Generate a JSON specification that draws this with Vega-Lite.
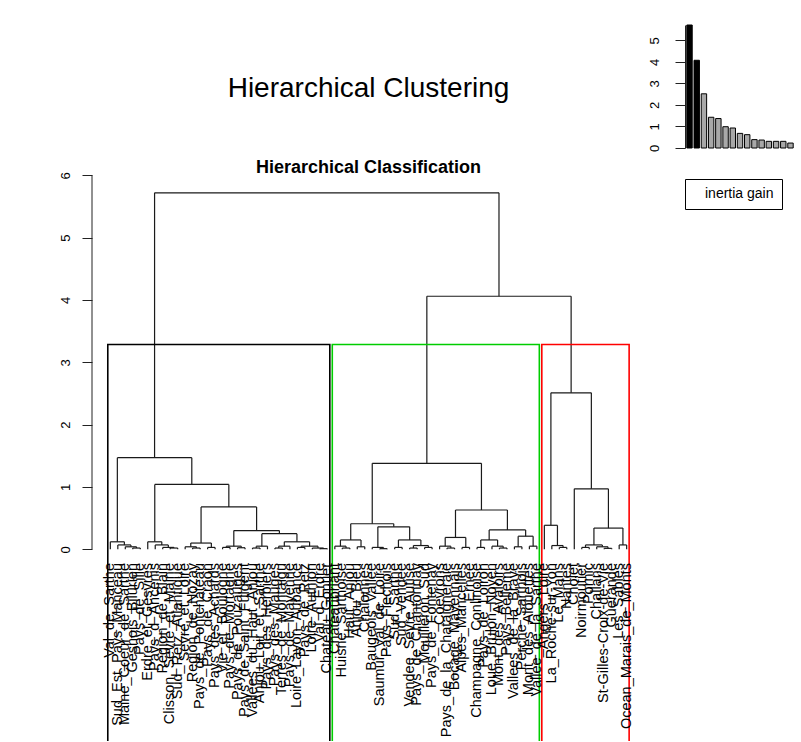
{
  "$schema": "https://vega.github.io/schema/vega-lite/v6.json",
  "padding": {"left": 59, "top": 24, "right": 0, "bottom": 0},
  "background": "white",
  "config": {"view": {"stroke": null}, "font": "Liberation Sans", "concat": {"spacing": 3}},
  "resolve": {"scale": {"stroke": "independent", "fill": "independent"}, "legend": {"stroke": "independent", "fill": "independent"}},
  "hconcat": [
    {
      "width": 553,
      "height": 716,
      "title": {"text": "Hierarchical Clustering", "subtitle": "Hierarchical Classification", "anchor": "middle", "frame": "group", "fontSize": 28, "fontWeight": "normal", "font": "Liberation Sans", "color": "black", "subtitleFont": "Liberation Sans", "subtitleFontSize": 18, "subtitleFontWeight": "bold", "subtitleColor": "black", "subtitlePadding": 56, "offset": -152},
      "layer": [
        {
          "data": {"name": "merges", "values": [
            {"xl": 4, "xr": 5, "h": 0.02, "hl": 0, "hr": 0},
            {"xl": 3, "xr": 4.5, "h": 0.04, "hl": 0, "hr": 0.02},
            {"xl": 2, "xr": 3.75, "h": 0.07, "hl": 0, "hr": 0.04},
            {"xl": 1, "xr": 2.875, "h": 0.12, "hl": 0, "hr": 0.07},
            {"xl": 9, "xr": 10, "h": 0.02, "hl": 0, "hr": 0},
            {"xl": 8, "xr": 9.5, "h": 0.03, "hl": 0, "hr": 0.02},
            {"xl": 7, "xr": 8.75, "h": 0.07, "hl": 0, "hr": 0.03},
            {"xl": 6, "xr": 7.875, "h": 0.12, "hl": 0, "hr": 0.07},
            {"xl": 12, "xr": 13, "h": 0.02, "hl": 0, "hr": 0},
            {"xl": 11, "xr": 12.5, "h": 0.04, "hl": 0, "hr": 0.02},
            {"xl": 14, "xr": 15, "h": 0.03, "hl": 0, "hr": 0},
            {"xl": 11.75, "xr": 14.5, "h": 0.1, "hl": 0.04, "hr": 0.03},
            {"xl": 16, "xr": 17, "h": 0.03, "hl": 0, "hr": 0},
            {"xl": 18, "xr": 19, "h": 0.025, "hl": 0, "hr": 0},
            {"xl": 16.5, "xr": 18.5, "h": 0.05, "hl": 0.03, "hr": 0.025},
            {"xl": 20, "xr": 21, "h": 0.02, "hl": 0, "hr": 0},
            {"xl": 20.5, "xr": 22, "h": 0.05, "hl": 0.02, "hr": 0},
            {"xl": 23, "xr": 24, "h": 0.02, "hl": 0, "hr": 0},
            {"xl": 23.5, "xr": 25, "h": 0.05, "hl": 0.02, "hr": 0},
            {"xl": 26, "xr": 27, "h": 0.03, "hl": 0, "hr": 0},
            {"xl": 29, "xr": 30, "h": 0.01, "hl": 0, "hr": 0},
            {"xl": 28, "xr": 29.5, "h": 0.02, "hl": 0, "hr": 0.01},
            {"xl": 26.5, "xr": 28.75, "h": 0.05, "hl": 0.03, "hr": 0.02},
            {"xl": 24.25, "xr": 27.625, "h": 0.12, "hl": 0.05, "hr": 0.05},
            {"xl": 21.25, "xr": 25.9375, "h": 0.25, "hl": 0.05, "hr": 0.12},
            {"xl": 17.5, "xr": 23.59375, "h": 0.3, "hl": 0.05, "hr": 0.25},
            {"xl": 13.125, "xr": 20.546875, "h": 0.68, "hl": 0.1, "hr": 0.3},
            {"xl": 6.9375, "xr": 16.8359375, "h": 1.04, "hl": 0.12, "hr": 0.68},
            {"xl": 1.9375, "xr": 11.88671875, "h": 1.47, "hl": 0.12, "hr": 1.04},
            {"xl": 32, "xr": 33, "h": 0.02, "hl": 0, "hr": 0},
            {"xl": 31, "xr": 32.5, "h": 0.05, "hl": 0, "hr": 0.02},
            {"xl": 34, "xr": 35, "h": 0.04, "hl": 0, "hr": 0},
            {"xl": 31.75, "xr": 34.5, "h": 0.15, "hl": 0.05, "hr": 0.04},
            {"xl": 37, "xr": 38, "h": 0.01, "hl": 0, "hr": 0},
            {"xl": 36, "xr": 37.5, "h": 0.03, "hl": 0, "hr": 0.01},
            {"xl": 39, "xr": 40, "h": 0.03, "hl": 0, "hr": 0},
            {"xl": 41, "xr": 42, "h": 0.02, "hl": 0, "hr": 0},
            {"xl": 43, "xr": 44, "h": 0.03, "hl": 0, "hr": 0},
            {"xl": 41.5, "xr": 43.5, "h": 0.06, "hl": 0.02, "hr": 0.03},
            {"xl": 39.5, "xr": 42.5, "h": 0.15, "hl": 0.03, "hr": 0.06},
            {"xl": 36.75, "xr": 41, "h": 0.36, "hl": 0.03, "hr": 0.15},
            {"xl": 33.125, "xr": 38.875, "h": 0.41, "hl": 0.15, "hr": 0.36},
            {"xl": 46, "xr": 47, "h": 0.02, "hl": 0, "hr": 0},
            {"xl": 45, "xr": 46.5, "h": 0.05, "hl": 0, "hr": 0.02},
            {"xl": 48, "xr": 49, "h": 0.03, "hl": 0, "hr": 0},
            {"xl": 45.75, "xr": 48.5, "h": 0.19, "hl": 0.05, "hr": 0.03},
            {"xl": 50, "xr": 51, "h": 0.03, "hl": 0, "hr": 0},
            {"xl": 53, "xr": 54, "h": 0.02, "hl": 0, "hr": 0},
            {"xl": 52, "xr": 53.5, "h": 0.05, "hl": 0, "hr": 0.02},
            {"xl": 50.5, "xr": 52.75, "h": 0.15, "hl": 0.03, "hr": 0.05},
            {"xl": 55, "xr": 56, "h": 0.04, "hl": 0, "hr": 0},
            {"xl": 57, "xr": 58, "h": 0.05, "hl": 0, "hr": 0},
            {"xl": 55.5, "xr": 57.5, "h": 0.21, "hl": 0.04, "hr": 0.05},
            {"xl": 51.625, "xr": 56.5, "h": 0.31, "hl": 0.15, "hr": 0.21},
            {"xl": 47.125, "xr": 54.0625, "h": 0.63, "hl": 0.19, "hr": 0.31},
            {"xl": 36, "xr": 50.59375, "h": 1.38, "hl": 0.41, "hr": 0.63},
            {"xl": 61, "xr": 62, "h": 0.03, "hl": 0, "hr": 0},
            {"xl": 60, "xr": 61.5, "h": 0.06, "hl": 0, "hr": 0.03},
            {"xl": 59, "xr": 60.75, "h": 0.385, "hl": 0, "hr": 0.06},
            {"xl": 64, "xr": 65, "h": 0.03, "hl": 0, "hr": 0},
            {"xl": 67, "xr": 68, "h": 0.015, "hl": 0, "hr": 0},
            {"xl": 66, "xr": 67.5, "h": 0.04, "hl": 0, "hr": 0.015},
            {"xl": 64.5, "xr": 66.75, "h": 0.07, "hl": 0.03, "hr": 0.04},
            {"xl": 69, "xr": 70, "h": 0.07, "hl": 0, "hr": 0},
            {"xl": 65.625, "xr": 69.5, "h": 0.34, "hl": 0.07, "hr": 0.07},
            {"xl": 63, "xr": 67.5625, "h": 0.97, "hl": 0, "hr": 0.34},
            {"xl": 59.875, "xr": 65.28125, "h": 2.51, "hl": 0.385, "hr": 0.97},
            {"xl": 43.296875, "xr": 62.578125, "h": 4.06, "hl": 1.38, "hr": 2.51},
            {"xl": 6.912109375, "xr": 52.9375, "h": 5.72, "hl": 1.47, "hr": 4.06}
          ]},
          "layer": [
            {"mark": {"type": "rule", "color": "#1a1a1a", "strokeWidth": 1.2},
             "encoding": {
               "x": {"field": "xl", "type": "quantitative", "scale": {"domain": [-1.45, 72.45], "nice": false, "zero": false}, "axis": null},
               "x2": {"field": "xr"},
               "y": {"field": "h", "type": "quantitative", "scale": {"domain": [-3.076, 8.412], "nice": false, "zero": false},
                     "axis": {"values": [0, 1, 2, 3, 4, 5, 6], "format": "d", "domain": false, "grid": false, "tickSize": 10, "tickColor": "#222", "tickWidth": 1, "labelAngle": 270, "labelFontSize": 13, "labelPadding": 10, "labelColor": "black", "labelFont": "Liberation Sans", "title": null}}
             }},
            {"mark": {"type": "rule", "color": "#1a1a1a", "strokeWidth": 1.2},
             "encoding": {"x": {"field": "xl", "type": "quantitative"}, "y": {"field": "hl", "type": "quantitative"}, "y2": {"field": "h"}}},
            {"mark": {"type": "rule", "color": "#1a1a1a", "strokeWidth": 1.2},
             "encoding": {"x": {"field": "xr", "type": "quantitative"}, "y": {"field": "hr", "type": "quantitative"}, "y2": {"field": "h"}}}
          ]
        },
        {
          "data": {"values": [
            {"cluster": "1", "left": 0.66, "right": 30.33, "top": 3.285, "bottom": -4},
            {"cluster": "2", "left": 30.66, "right": 58.33, "top": 3.285, "bottom": -4},
            {"cluster": "3", "left": 58.66, "right": 70.33, "top": 3.285, "bottom": -4}
          ]},
          "mark": {"type": "rect", "fill": null, "strokeWidth": 1.6, "clip": true},
          "encoding": {
            "x": {"field": "left", "type": "quantitative"},
            "x2": {"field": "right"},
            "y": {"field": "top", "type": "quantitative"},
            "y2": {"field": "bottom"},
            "stroke": {"field": "cluster", "type": "nominal", "scale": {"domain": ["1", "2", "3"], "range": ["black", "#00CD00", "#FF0000"]}, "legend": null}
          }
        },
        {
          "data": {"values": [{"from": 0, "to": 6}]},
          "mark": {"type": "rule", "color": "#222", "strokeWidth": 1},
          "encoding": {"x": {"datum": -1.45}, "y": {"field": "from", "type": "quantitative"}, "y2": {"field": "to"}}
        },
        {
          "data": {"values": [
            {"i": 1, "name": "Val_de_Sarthe"}, {"i": 2, "name": "Sud_Est_Pays_Manceau"}, {"i": 3, "name": "Maine_Coeur_de_Sarthe"}, {"i": 4, "name": "Gesnois_Bilurien"}, {"i": 5, "name": "Pays_de_Sille"},
            {"i": 6, "name": "Erdre_et_Gesvres"}, {"i": 7, "name": "Pays_d_Ancenis"}, {"i": 8, "name": "Region_de_Blain"}, {"i": 9, "name": "Clisson_Sevre_et_Maine"}, {"i": 10, "name": "Sud_Retz_Atlantique"},
            {"i": 11, "name": "Sevre_et_Loire"}, {"i": 12, "name": "Region_de_Nozay"}, {"i": 13, "name": "Pays_de_Pontchateau"}, {"i": 14, "name": "Pays_de_Craon"}, {"i": 15, "name": "Pays_des_Achards"},
            {"i": 16, "name": "Vie_et_Boulogne"}, {"i": 17, "name": "Pays_de_Mortagne"}, {"i": 18, "name": "Pays_de_Pouzauges"}, {"i": 19, "name": "Pays_de_Saint_Fulgent"}, {"i": 20, "name": "Vallees_du_Haut_Anjou"},
            {"i": 21, "name": "Anjou_Loir_et_Sarthe"}, {"i": 22, "name": "Pays_des_Herbiers"}, {"i": 23, "name": "Pays_des_Mauges"}, {"i": 24, "name": "Terres_de_Montaigu"}, {"i": 25, "name": "Pays_de_Mayenne"},
            {"i": 26, "name": "Loire_Layon_Aubance"}, {"i": 27, "name": "Pays_de_Retz"}, {"i": 28, "name": "Loire_Authion"}, {"i": 29, "name": "Val_d_Erdre"}, {"i": 30, "name": "Chateau_Gontier"},
            {"i": 31, "name": "Chateaubriant"}, {"i": 32, "name": "Huisne_Sarthoise"}, {"i": 33, "name": "Haut_Anjou"}, {"i": 34, "name": "Anjou_Bleu"}, {"i": 35, "name": "Chalonnes"},
            {"i": 36, "name": "Baugeois_Vallee"}, {"i": 37, "name": "Saumur_Val_de_Loire"}, {"i": 38, "name": "Pays_Flechois"}, {"i": 39, "name": "Sud_Sarthe"}, {"i": 40, "name": "Sud_Vendee"},
            {"i": 41, "name": "Vendee_Sevre_Autise"}, {"i": 42, "name": "Pays_de_Chantonnay"}, {"i": 43, "name": "Mouilleron_Sud"}, {"i": 44, "name": "Pays_de_Fontenay"}, {"i": 45, "name": "Coevrons"},
            {"i": 46, "name": "Pays_de_la_Chataigneraie"}, {"i": 47, "name": "Bocage_Mayennais"}, {"i": 48, "name": "Alpes_Mancelles"}, {"i": 49, "name": "Ernee"}, {"i": 50, "name": "Champagne_Conlinoise"},
            {"i": 51, "name": "Pays_de_Loiron"}, {"i": 52, "name": "Loue_Brulon_Noyen"}, {"i": 53, "name": "Mont_des_Avaloirs"}, {"i": 54, "name": "Pays_Belleme"}, {"i": 55, "name": "Vallees_de_la_Braye"},
            {"i": 56, "name": "Perche_Sarthois"}, {"i": 57, "name": "Mont_des_Alouettes"}, {"i": 58, "name": "Vallee_de_la_Sarthe"}, {"i": 59, "name": "Angers_Loire"}, {"i": 60, "name": "La_Roche-sur-Yon"},
            {"i": 61, "name": "Le_Mans"}, {"i": 62, "name": "Nantes"}, {"i": 63, "name": "Cholet"}, {"i": 64, "name": "Noirmoutier"}, {"i": 65, "name": "Pornic"},
            {"i": 66, "name": "Challans"}, {"i": 67, "name": "St-Gilles-Croix-de-Vie"}, {"i": 68, "name": "Guerande"}, {"i": 69, "name": "Les_Sables"}, {"i": 70, "name": "Ocean_Marais_de_Monts"}
          ]},
          "mark": {"type": "text", "angle": 270, "align": "right", "baseline": "middle", "fontSize": 14.5, "font": "Liberation Sans", "color": "black"},
          "encoding": {"x": {"field": "i", "type": "quantitative"}, "y": {"datum": -0.22}, "text": {"field": "name"}}
        }
      ]
    },
    {
      "width": 110,
      "height": 123,
      "data": {"values": [
        {"k": 1, "gain": 5.72, "kept": "yes", "series": "inertia gain"}, {"k": 2, "gain": 4.08, "kept": "yes", "series": "inertia gain"}, {"k": 3, "gain": 2.52, "kept": "no", "series": "inertia gain"},
        {"k": 4, "gain": 1.43, "kept": "no", "series": "inertia gain"}, {"k": 5, "gain": 1.37, "kept": "no", "series": "inertia gain"}, {"k": 6, "gain": 0.99, "kept": "no", "series": "inertia gain"},
        {"k": 7, "gain": 0.93, "kept": "no", "series": "inertia gain"}, {"k": 8, "gain": 0.68, "kept": "no", "series": "inertia gain"}, {"k": 9, "gain": 0.62, "kept": "no", "series": "inertia gain"},
        {"k": 10, "gain": 0.39, "kept": "no", "series": "inertia gain"}, {"k": 11, "gain": 0.37, "kept": "no", "series": "inertia gain"}, {"k": 12, "gain": 0.31, "kept": "no", "series": "inertia gain"},
        {"k": 13, "gain": 0.31, "kept": "no", "series": "inertia gain"}, {"k": 14, "gain": 0.31, "kept": "no", "series": "inertia gain"}, {"k": 15, "gain": 0.23, "kept": "no", "series": "inertia gain"}
      ]},
      "mark": {"type": "bar", "strokeWidth": 1},
      "encoding": {
        "x": {"field": "k", "type": "ordinal", "axis": null, "scale": {"paddingInner": 0.25, "paddingOuter": 0.25}},
        "y": {"field": "gain", "type": "quantitative", "scale": {"domain": [0, 5.72], "nice": false},
              "axis": {"values": [0, 1, 2, 3, 4, 5], "format": "d", "grid": false, "domain": true, "domainColor": "#222", "tickSize": 10, "tickColor": "#222", "labelAngle": 270, "labelFontSize": 13, "labelPadding": 14, "labelColor": "black", "labelFont": "Liberation Sans", "title": null}},
        "fill": {"field": "kept", "type": "nominal", "scale": {"domain": ["yes", "no"], "range": ["black", "#A8A8A8"]}, "legend": null},
        "stroke": {"field": "series", "type": "nominal", "scale": {"domain": ["inertia gain"], "range": ["black"]},
                   "legend": {"orient": "bottom", "offset": 31, "title": null, "strokeColor": "black", "padding": 8, "symbolOpacity": 0, "symbolStrokeWidth": 0, "symbolSize": 16, "labelOffset": -2, "labelFontSize": 14, "labelFont": "Liberation Sans", "labelColor": "black", "labelExpr": "datum.label + '\u00a0\u00a0\u00a0'"}}
      }
    }
  ]
}
